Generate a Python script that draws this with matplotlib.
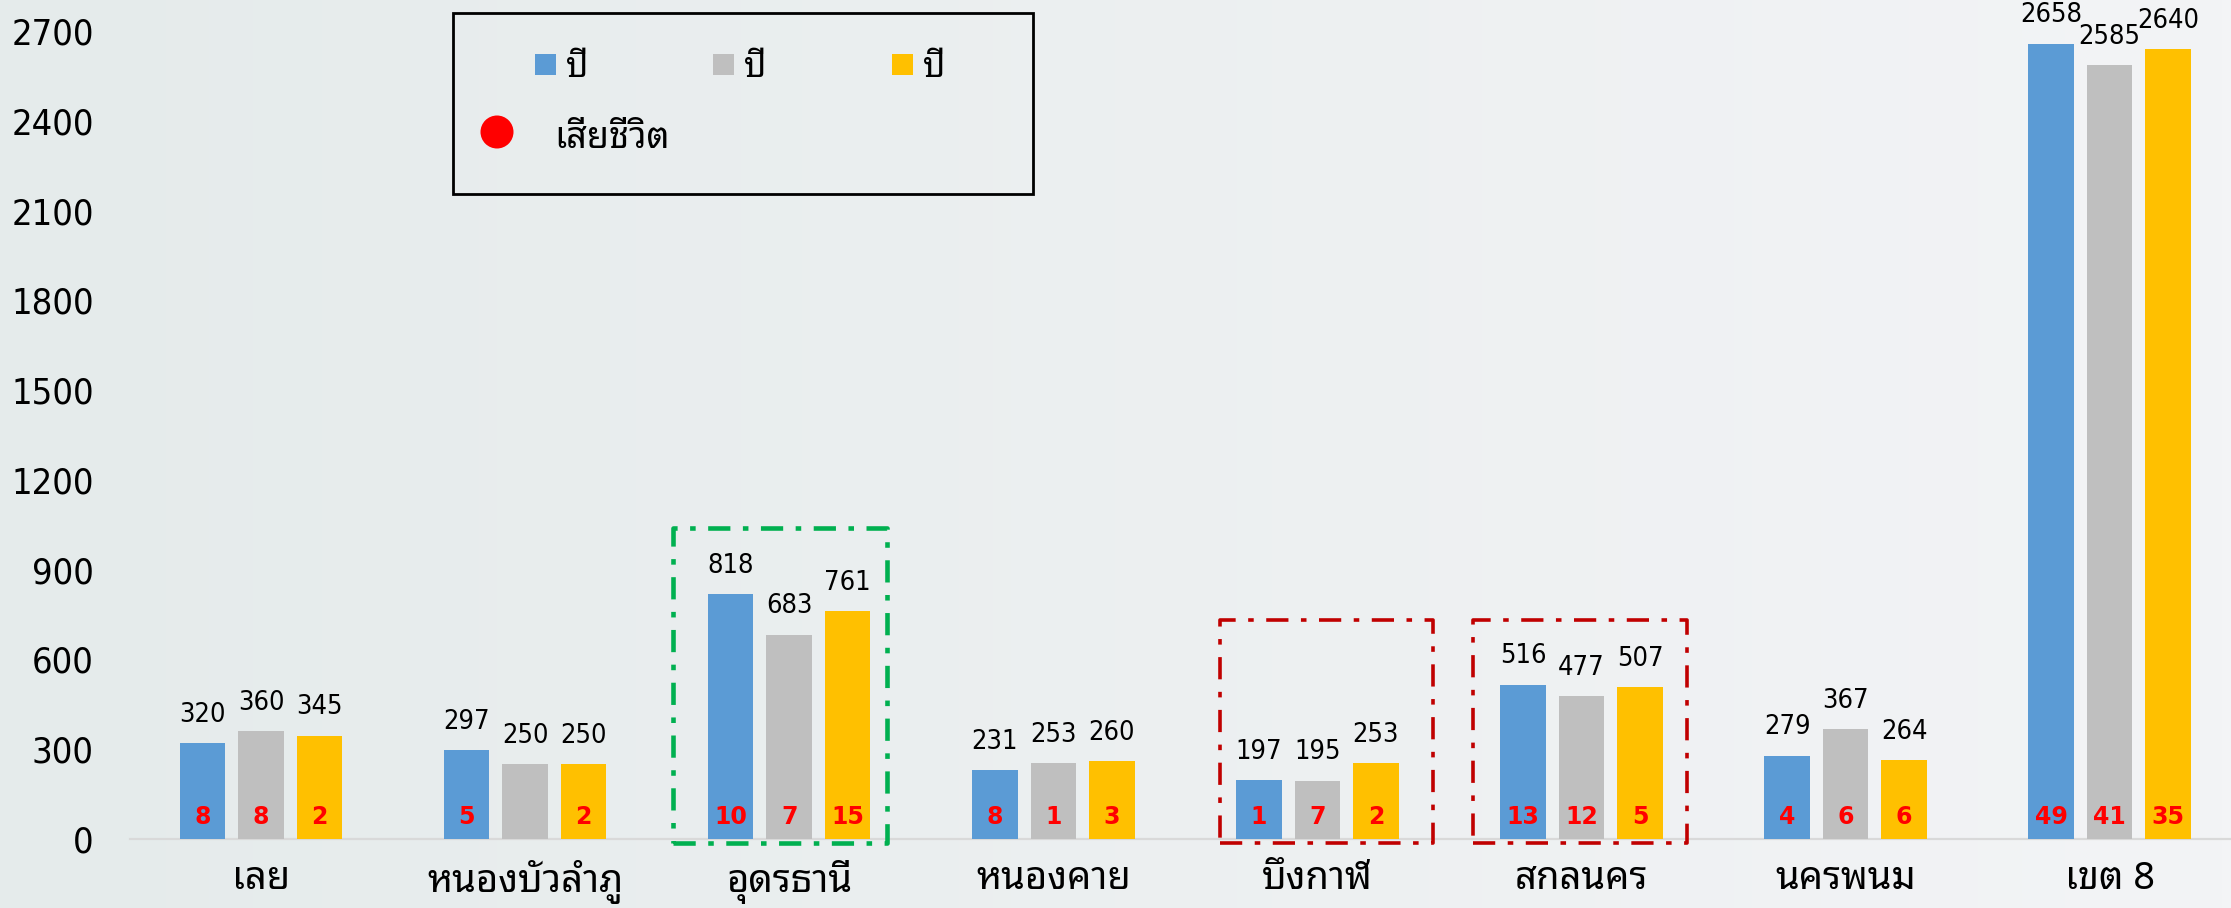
import matplotlib
matplotlib.use('Agg')
import matplotlib.pyplot as plt
import numpy as np
from matplotlib import font_manager
from matplotlib.patches import Rectangle, Ellipse
from matplotlib.lines import Line2D
from matplotlib.colors import to_rgb

# ---------------- data ----------------
categories = ['เลย', 'หนองบัวลำภู', 'อุดรธานี', 'หนองคาย', 'บึงกาฬ', 'สกลนคร', 'นครพนม', 'เขต 8']
year1 = [320, 297, 818, 231, 197, 516, 279, 2658]
year2 = [360, 250, 683, 253, 195, 477, 367, 2585]
year3 = [345, 250, 761, 260, 253, 507, 264, 2640]
deaths1 = [8, 5, 10, 8, 1, 13, 4, 49]
deaths2 = [8, None, 7, 1, 7, 12, 6, 41]
deaths3 = [2, 2, 15, 3, 2, 5, 6, 35]
series_labels = ['ปี', 'ปี', 'ปี']
death_label = 'เสียชีวิต'
yticks = [0, 300, 600, 900, 1200, 1500, 1800, 2100, 2400, 2700]

# ---------------- fonts ----------------
available = {f.name for f in font_manager.fontManager.ttflist}
THAI_LIST = [n for n in ['Noto Sans Thai Looped', 'Loma', 'Noto Sans Thai'] if n in available]
FAM = ['DejaVu Sans'] + THAI_LIST
THAI_FAM = THAI_LIST + ['DejaVu Sans']
plt.rcParams['font.family'] = FAM
plt.rcParams['lines.scale_dashes'] = False

W, H = 2231, 908
fig = plt.figure(figsize=(W / 100, H / 100), dpi=100)

# background gradient
bg = fig.add_axes([0, 0, 1, 1], zorder=-10)
c0 = np.array(to_rgb('#E5EBEB'))
c1 = np.array(to_rgb('#F3F4F6'))
t = np.linspace(0, 1, 256)[None, :, None]
grad = c0 + (c1 - c0) * t
bg.imshow(grad, aspect='auto', extent=[0, 1, 0, 1])
bg.set_axis_off()

# main axes (pixel-based placement)
ax_l, ax_r, ax_b, ax_t = 130, 2231, 839, 31
ax = fig.add_axes([ax_l / W, 1 - ax_b / H, (ax_r - ax_l) / W, (ax_b - ax_t) / H])
ax.set_facecolor('none')

colors = ['#5B9BD5', '#BFBFBF', '#FFC000']
x = np.arange(len(categories))
step = 0.2215
width = 0.172
series = [year1, year2, year3]
deaths = [deaths1, deaths2, deaths3]
for k, (vals, dvals, col) in enumerate(zip(series, deaths, colors)):
    xs = x + (k - 1) * step
    bars = ax.bar(xs, vals, width=width, color=col, zorder=3)
    ax.bar_label(bars, labels=[str(v) for v in vals], padding=11, fontsize=19.5,
                 color='black', fontstretch='condensed')
    for xi, d in zip(xs, dvals):
        if d is None:
            continue
        ax.annotate(str(d), xy=(xi, 0), xytext=(0, 16), textcoords='offset points',
                    ha='center', va='center', fontsize=17, fontweight='bold',
                    color='#FF0000', zorder=5)

ax.set_xlim((ax_l - 261) / 264.1, (ax_r - 261) / 264.1)
ax.set_ylim(0, 2700)
ax.set_yticks(yticks)
ax.set_yticklabels([str(v) for v in yticks], fontsize=26, fontstretch='condensed')
ax.set_xticks(x)
ax.set_xticklabels(categories, fontsize=27.5, family=THAI_FAM)
ax.tick_params(axis='y', length=0, pad=26)
ax.tick_params(axis='x', length=0, pad=15)
for s in ['top', 'right', 'left']:
    ax.spines[s].set_visible(False)
ax.spines['bottom'].set_color('#D9D9D9')
ax.spines['bottom'].set_linewidth(1.6)
ax.spines['bottom'].set_zorder(2)

# highlight boxes (offsets relative to group centre)
def dash_box(i, dl, dr, top, bottom, color, lw):
    xs_ = [i + dl, i + dr, i + dr, i + dl, i + dl]
    ys_ = [bottom, bottom, top, top, bottom]
    ln = Line2D(xs_, ys_, color=color, lw=lw, zorder=4, clip_on=False,
                dashes=(16, 9, 4, 9), solid_capstyle='butt', dash_capstyle='butt')
    ax.add_line(ln)

dash_box(2, -0.44, 0.371, 1039, -13, '#00B050', 3.3)
dash_box(4, -0.369, 0.437, 732, -13, '#C00000', 2.6)
dash_box(5, -0.412, 0.399, 732, -13, '#C00000', 2.6)

# legend (manual, figure pixel coords)
def fx(px):
    return px / W

def fy(py):
    return 1 - py / H

fig.patches.append(Rectangle((fx(453), fy(194)), fx(1033) - fx(453), fy(13) - fy(194),
                             transform=fig.transFigure, fill=False, ec='black', lw=2.0))
for col, lab, px0 in zip(colors, series_labels, [535, 713, 892]):
    fig.patches.append(Rectangle((fx(px0), fy(75)), fx(21), 21 / H,
                                 transform=fig.transFigure, fc=col, ec='none'))
    fig.text(fx(px0 + 31), fy(77), lab, fontsize=25, fontweight='bold',
             ha='left', va='baseline', family=THAI_FAM)
fig.patches.append(Ellipse((fx(497), fy(132)), 33 / W, 33 / H, transform=fig.transFigure,
                           fc='#FF0000', ec='none'))
fig.text(fx(554), fy(148), death_label, fontsize=26, fontweight='bold',
         ha='left', va='baseline', family=THAI_FAM)

fig.savefig('out.png', dpi=100)
